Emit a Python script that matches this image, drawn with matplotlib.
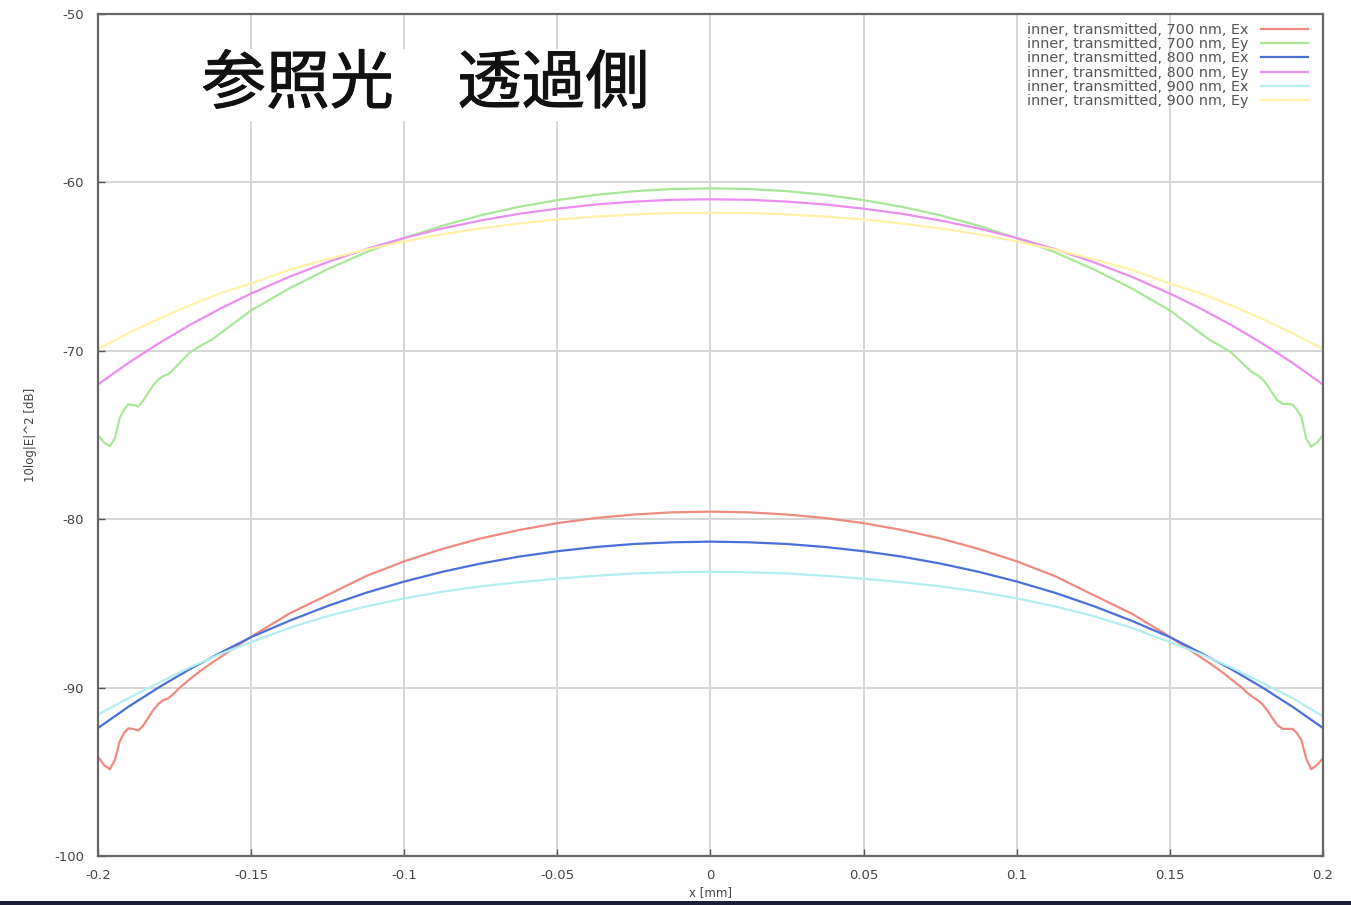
import matplotlib
matplotlib.use("Agg")
import matplotlib.pyplot as plt
import matplotlib.patheffects as pe
from matplotlib.patches import Rectangle

plt.rcParams["axes.unicode_minus"] = False

# x positions [mm]; the 700 nm runs ripple near the edges, so they get a finer grid there
x_700 = [-0.2, -0.198, -0.1961, -0.1945, -0.1929, -0.1915, -0.1901, -0.1885, -0.1868, -0.1852,
         -0.1836, -0.182, -0.1803, -0.1787, -0.177, -0.1752, -0.1735, -0.17, -0.1665, -0.163,
         -0.15, -0.1375, -0.125, -0.1125, -0.1, -0.0875, -0.075, -0.0625, -0.05, -0.0375,
         -0.025, -0.0125, 0.0, 0.0125, 0.025, 0.0375, 0.05, 0.0625, 0.075, 0.0875,
         0.1, 0.1125, 0.125, 0.1375, 0.15,
         0.163, 0.1665, 0.17, 0.1735, 0.1752, 0.177, 0.1787, 0.1803, 0.182, 0.1836,
         0.1852, 0.1868, 0.1885, 0.1901, 0.1915, 0.1929, 0.1945, 0.1961, 0.198, 0.2]
x_smooth = [-0.2, -0.19, -0.18, -0.17, -0.16,
            -0.15, -0.1375, -0.125, -0.1125, -0.1, -0.0875, -0.075, -0.0625, -0.05, -0.0375,
            -0.025, -0.0125, 0.0, 0.0125, 0.025, 0.0375, 0.05, 0.0625, 0.075, 0.0875,
            0.1, 0.1125, 0.125, 0.1375, 0.15,
            0.16, 0.17, 0.18, 0.19, 0.2]

ex_700 = [-94.1, -94.6, -94.85, -94.3, -93.2, -92.7, -92.42, -92.45, -92.55, -92.25,
          -91.8, -91.35, -90.97, -90.75, -90.63, -90.35, -90.04, -89.5, -89.0, -88.55,
          -86.98, -85.6, -84.5, -83.38, -82.5, -81.76, -81.14, -80.64, -80.23, -79.93,
          -79.72, -79.59, -79.55, -79.59, -79.72, -79.93, -80.23, -80.64, -81.14, -81.76,
          -82.5, -83.38, -84.5, -85.6, -86.98,
          -88.55, -89.0, -89.5, -90.0, -90.3, -90.55, -90.75, -91.0, -91.4, -91.85,
          -92.25, -92.45, -92.45, -92.45, -92.7, -93.1, -94.2, -94.85, -94.6, -94.2]
ey_700 = [-75.0, -75.45, -75.65, -75.2, -74.0, -73.5, -73.18, -73.22, -73.3, -72.95,
          -72.5, -72.05, -71.7, -71.5, -71.38, -71.08, -70.74, -70.1, -69.7, -69.36,
          -67.6, -66.29, -65.15, -64.15, -63.3, -62.57, -61.95, -61.45, -61.05, -60.74,
          -60.52, -60.39, -60.35, -60.39, -60.52, -60.74, -61.05, -61.45, -61.95, -62.57,
          -63.3, -64.15, -65.15, -66.29, -67.6,
          -69.36, -69.7, -70.1, -70.7, -71.0, -71.3, -71.45, -71.7, -72.1, -72.55,
          -72.95, -73.15, -73.15, -73.2, -73.5, -73.9, -75.2, -75.7, -75.45, -75.0]
ex_800 = [-92.4, -91.13, -89.97, -88.9, -87.93,
          -87.0, -86.03, -85.15, -84.37, -83.7, -83.12, -82.63, -82.22, -81.9, -81.65,
          -81.47, -81.37, -81.33, -81.37, -81.47, -81.65, -81.9, -82.22, -82.63, -83.12,
          -83.7, -84.37, -85.15, -86.03, -87.0,
          -87.93, -88.9, -89.97, -91.13, -92.4]
ey_800 = [-72.0, -70.71, -69.54, -68.46, -67.49,
          -66.6, -65.6, -64.73, -63.96, -63.3, -62.73, -62.26, -61.86, -61.56, -61.31,
          -61.14, -61.03, -61.0, -61.03, -61.14, -61.31, -61.56, -61.86, -62.26, -62.73,
          -63.3, -63.96, -64.73, -65.6, -66.6,
          -67.49, -68.46, -69.54, -70.71, -72.0]
ex_900 = [-91.6, -90.62, -89.7, -88.8, -88.0,
          -87.3, -86.45, -85.75, -85.18, -84.7, -84.3, -83.98, -83.74, -83.53, -83.36,
          -83.22, -83.15, -83.12, -83.15, -83.22, -83.36, -83.53, -83.74, -83.98, -84.3,
          -84.7, -85.18, -85.75, -86.45, -87.3,
          -88.0, -88.8, -89.7, -90.62, -91.7]
ey_900 = [-69.9, -68.95, -68.09, -67.3, -66.58,
          -66.0, -65.19, -64.55, -63.99, -63.5, -63.08, -62.73, -62.44, -62.2, -62.03,
          -61.9, -61.82, -61.8, -61.82, -61.9, -62.03, -62.2, -62.44, -62.73, -63.08,
          -63.5, -63.99, -64.55, -65.19, -66.0,
          -66.58, -67.3, -68.09, -68.95, -69.9]

labels = ["inner, transmitted, 700 nm, Ex", "inner, transmitted, 700 nm, Ey",
          "inner, transmitted, 800 nm, Ex", "inner, transmitted, 800 nm, Ey",
          "inner, transmitted, 900 nm, Ex", "inner, transmitted, 900 nm, Ey"]
colors = ["#f08a80", "#a8e898", "#4a6fd8", "#ec8ef0", "#b4eef0", "#fff2a8"]

x_ticks = [-0.2, -0.15, -0.1, -0.05, 0, 0.05, 0.1, 0.15, 0.2]
x_ticklabels = ["-0.2", "-0.15", "-0.1", "-0.05", "0", "0.05", "0.1", "0.15", "0.2"]
y_ticks = [-100, -90, -80, -70, -60, -50]

fig = plt.figure(figsize=(13.51, 9.05), dpi=100)
ax = fig.add_axes([0.0725, 0.0541, 0.9068, 0.9304])

series = [(x_700, ex_700), (x_700, ey_700), (x_smooth, ex_800),
          (x_smooth, ey_800), (x_smooth, ex_900), (x_smooth, ey_900)]
for (xs, ys), lab, col in zip(series, labels, colors):
    ax.plot(xs, ys, color=col, lw=1.6, label=lab, solid_joinstyle="round")

ax.set_xlim(-0.2, 0.2)
ax.set_ylim(-100, -50)
ax.set_xticks(x_ticks)
ax.set_xticklabels(x_ticklabels)
ax.set_yticks(y_ticks)
ax.grid(True, color="#d6d6d6", lw=1.4)
ax.set_axisbelow(True)
ax.tick_params(direction="in", length=5, width=1, colors="#555555",
               labelcolor="#444444", labelsize=9.5, pad=10)
ax.tick_params(axis="x", pad=9)
for sp in ax.spines.values():
    sp.set_color("#666666")
    sp.set_linewidth(1.6)

ax.set_xlabel("x [mm]", fontsize=8.5, color="#444444", labelpad=3)
ax.set_ylabel("10log|E|^2 [dB]", fontsize=8.5, color="#444444", labelpad=12)

leg = ax.legend(loc="upper right", bbox_to_anchor=(0.9945, 1.0), frameon=False,
                fontsize=10.4, markerfirst=False, handlelength=3.2, handletextpad=0.9,
                labelspacing=0.02, borderaxespad=0.2)
for t in leg.get_texts():
    t.set_color("#555555")

ax.text(0.085, 0.916, "参照光　透過側", transform=ax.transAxes, fontsize=46,
        family=["Noto Sans CJK JP", "DejaVu Sans"],
        va="center", ha="left", color="#111111",
        path_effects=[pe.withStroke(linewidth=0.7, foreground="#111111")],
        bbox=dict(facecolor="white", edgecolor="none", pad=2))

# dark strip along the lower edge of the image
fig.add_artist(Rectangle((0, 0), 1, 4 / 905, transform=fig.transFigure,
                         facecolor="#1c1f3a", edgecolor="none"))

fig.savefig("out.png", dpi=100)
